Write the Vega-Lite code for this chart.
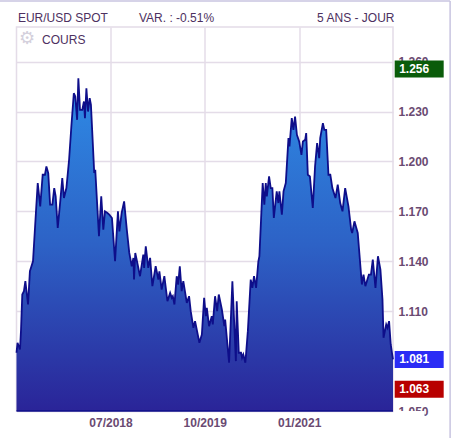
{"$schema":"https://vega.github.io/schema/vega-lite/v6.json","width":376.5,"height":384,"autosize":{"type":"none"},"padding":{"left":16.5,"top":27,"right":61,"bottom":27},"background":"#ffffff","view":{"stroke":"#e4dce8","strokeWidth":1.5},"datasets":{"one":[{}],"price":[
{"date":"2017-04-01","value":1.085},{"date":"2017-04-06","value":1.091},{"date":"2017-04-18","value":1.087},{"date":"2017-04-23","value":1.099},{"date":"2017-04-29","value":1.12},{"date":"2017-05-07","value":1.122},{"date":"2017-05-14","value":1.128},{"date":"2017-05-27","value":1.114},{"date":"2017-06-05","value":1.134},{"date":"2017-06-20","value":1.14},{"date":"2017-07-05","value":1.171},{"date":"2017-07-13","value":1.187},{"date":"2017-07-25","value":1.173},{"date":"2017-08-06","value":1.192},{"date":"2017-08-17","value":1.192},{"date":"2017-08-24","value":1.197},{"date":"2017-09-02","value":1.193},{"date":"2017-09-11","value":1.174},{"date":"2017-09-22","value":1.174},{"date":"2017-10-01","value":1.184},{"date":"2017-10-08","value":1.179},{"date":"2017-10-18","value":1.16},{"date":"2017-10-31","value":1.177},{"date":"2017-11-09","value":1.19},{"date":"2017-11-17","value":1.178},{"date":"2017-11-29","value":1.184},{"date":"2017-12-12","value":1.201},{"date":"2017-12-23","value":1.221},{"date":"2018-01-04","value":1.241},{"date":"2018-01-11","value":1.239},{"date":"2018-01-20","value":1.225},{"date":"2018-01-26","value":1.25},{"date":"2018-02-03","value":1.231},{"date":"2018-02-14","value":1.231},{"date":"2018-02-22","value":1.236},{"date":"2018-02-27","value":1.226},{"date":"2018-03-06","value":1.244},{"date":"2018-03-14","value":1.23},{"date":"2018-03-22","value":1.238},{"date":"2018-03-28","value":1.234},{"date":"2018-04-06","value":1.211},{"date":"2018-04-13","value":1.193},{"date":"2018-04-18","value":1.195},{"date":"2018-04-26","value":1.177},{"date":"2018-05-06","value":1.155},{"date":"2018-05-17","value":1.179},{"date":"2018-05-27","value":1.159},{"date":"2018-06-04","value":1.17},{"date":"2018-06-16","value":1.169},{"date":"2018-06-25","value":1.168},{"date":"2018-07-08","value":1.166},{"date":"2018-07-23","value":1.14},{"date":"2018-08-06","value":1.17},{"date":"2018-08-13","value":1.158},{"date":"2018-08-24","value":1.169},{"date":"2018-09-05","value":1.176},{"date":"2018-09-18","value":1.159},{"date":"2018-09-30","value":1.145},{"date":"2018-10-12","value":1.137},{"date":"2018-10-20","value":1.142},{"date":"2018-10-23","value":1.129},{"date":"2018-10-29","value":1.145},{"date":"2018-11-08","value":1.139},{"date":"2018-11-21","value":1.131},{"date":"2018-12-07","value":1.144},{"date":"2018-12-11","value":1.136},{"date":"2018-12-19","value":1.149},{"date":"2018-12-31","value":1.136},{"date":"2019-01-09","value":1.142},{"date":"2019-01-20","value":1.125},{"date":"2019-02-05","value":1.137},{"date":"2019-02-18","value":1.129},{"date":"2019-02-23","value":1.134},{"date":"2019-03-06","value":1.123},{"date":"2019-03-19","value":1.131},{"date":"2019-04-03","value":1.116},{"date":"2019-04-16","value":1.121},{"date":"2019-04-24","value":1.118},{"date":"2019-04-29","value":1.119},{"date":"2019-05-07","value":1.114},{"date":"2019-05-18","value":1.131},{"date":"2019-05-25","value":1.126},{"date":"2019-06-02","value":1.137},{"date":"2019-06-11","value":1.122},{"date":"2019-06-19","value":1.128},{"date":"2019-07-06","value":1.115},{"date":"2019-07-17","value":1.119},{"date":"2019-07-25","value":1.11},{"date":"2019-08-07","value":1.1},{"date":"2019-08-15","value":1.104},{"date":"2019-09-05","value":1.091},{"date":"2019-09-17","value":1.096},{"date":"2019-09-28","value":1.118},{"date":"2019-10-06","value":1.107},{"date":"2019-10-11","value":1.112},{"date":"2019-10-22","value":1.101},{"date":"2019-11-04","value":1.107},{"date":"2019-11-09","value":1.102},{"date":"2019-11-20","value":1.119},{"date":"2019-11-30","value":1.11},{"date":"2019-12-08","value":1.12},{"date":"2019-12-23","value":1.111},{"date":"2020-01-04","value":1.101},{"date":"2020-01-08","value":1.105},{"date":"2020-01-27","value":1.079},{"date":"2020-02-12","value":1.128},{"date":"2020-02-29","value":1.08},{"date":"2020-03-04","value":1.116},{"date":"2020-03-14","value":1.085},{"date":"2020-03-25","value":1.085},{"date":"2020-03-30","value":1.082},{"date":"2020-04-05","value":1.084},{"date":"2020-04-15","value":1.079},{"date":"2020-04-27","value":1.098},{"date":"2020-05-11","value":1.129},{"date":"2020-05-19","value":1.124},{"date":"2020-05-27","value":1.131},{"date":"2020-06-06","value":1.124},{"date":"2020-06-17","value":1.14},{"date":"2020-06-22","value":1.143},{"date":"2020-06-30","value":1.165},{"date":"2020-07-08","value":1.187},{"date":"2020-07-16","value":1.174},{"date":"2020-07-23","value":1.187},{"date":"2020-07-28","value":1.179},{"date":"2020-08-08","value":1.191},{"date":"2020-08-16","value":1.184},{"date":"2020-08-24","value":1.184},{"date":"2020-08-31","value":1.166},{"date":"2020-09-14","value":1.182},{"date":"2020-09-22","value":1.175},{"date":"2020-09-27","value":1.182},{"date":"2020-10-09","value":1.168},{"date":"2020-10-17","value":1.182},{"date":"2020-10-28","value":1.187},{"date":"2020-11-10","value":1.214},{"date":"2020-11-15","value":1.209},{"date":"2020-11-26","value":1.226},{"date":"2020-12-04","value":1.219},{"date":"2020-12-12","value":1.227},{"date":"2020-12-21","value":1.216},{"date":"2021-01-01","value":1.212},{"date":"2021-01-12","value":1.204},{"date":"2021-01-19","value":1.212},{"date":"2021-01-30","value":1.213},{"date":"2021-02-04","value":1.217},{"date":"2021-02-12","value":1.192},{"date":"2021-02-22","value":1.191},{"date":"2021-03-08","value":1.172},{"date":"2021-03-19","value":1.197},{"date":"2021-03-29","value":1.211},{"date":"2021-04-08","value":1.202},{"date":"2021-04-13","value":1.214},{"date":"2021-04-26","value":1.223},{"date":"2021-05-03","value":1.219},{"date":"2021-05-12","value":1.219},{"date":"2021-05-23","value":1.192},{"date":"2021-06-01","value":1.192},{"date":"2021-06-11","value":1.184},{"date":"2021-06-26","value":1.178},{"date":"2021-07-07","value":1.186},{"date":"2021-07-19","value":1.175},{"date":"2021-07-30","value":1.17},{"date":"2021-08-12","value":1.184},{"date":"2021-08-28","value":1.173},{"date":"2021-09-10","value":1.159},{"date":"2021-09-15","value":1.157},{"date":"2021-09-26","value":1.164},{"date":"2021-10-12","value":1.157},{"date":"2021-11-01","value":1.126},{"date":"2021-11-09","value":1.132},{"date":"2021-11-18","value":1.125},{"date":"2021-12-05","value":1.132},{"date":"2021-12-15","value":1.132},{"date":"2021-12-24","value":1.141},{"date":"2022-01-06","value":1.124},{"date":"2022-01-18","value":1.143},{"date":"2022-01-30","value":1.135},{"date":"2022-02-09","value":1.117},{"date":"2022-02-14","value":1.094},{"date":"2022-02-27","value":1.102},{"date":"2022-03-05","value":1.1},{"date":"2022-03-13","value":1.104},{"date":"2022-03-21","value":1.09},{"date":"2022-03-27","value":1.085},{"date":"2022-04-01","value":1.081}],
"levels":[{"label":"1.256","value":1.2555},{"label":"1.081","value":1.081},{"label":"1.063","value":1.063}],
"header":[{"label":"EUR/USD SPOT","date":"2017-04-08","value":1.2862},{"label":"VAR. : -0.51%","date":"2018-11-16","value":1.2862},{"label":"5 ANS - JOUR","date":"2021-03-29","value":1.2862},{"label":"COURS","date":"2017-08-03","value":1.2732}]},
"layer":[
{"data":{"name":"price"},"mark":{"type":"area","opacity":1,"fill":{"x1":0,"y1":0,"x2":0,"y2":1,"gradient":"linear","stops":[{"offset":0,"color":"#2e8ce6"},{"offset":0.5,"color":"#2d62c6"},{"offset":1,"color":"#2a2498"}]}},
"encoding":{"x":{"field":"date","type":"temporal","scale":{"domain":[{"year":2017,"month":4,"date":1},{"year":2022,"month":4,"date":1}]},"axis":{"title":null,"values":[{"year":2018,"month":7,"date":1},{"year":2019,"month":10,"date":1},{"year":2021,"month":1,"date":1}],"format":"%m/%Y","grid":true,"gridColor":"#e4dce8","gridWidth":1.5,"ticks":false,"domain":false,"labelFont":"Liberation Sans","labelFontSize":12,"labelFontWeight":"bold","labelColor":"#6a4a72","labelPadding":6}},
"y":{"field":"value","type":"quantitative","scale":{"domain":[1.05,1.2808],"nice":false,"zero":false},"axis":{"title":null,"orient":"right","values":[1.05,1.08,1.11,1.14,1.17,1.2,1.23,1.26],"labelExpr":"datum.value==1.08?'':format(datum.value,'.3f')","grid":true,"gridColor":"#e4dce8","gridWidth":1.5,"ticks":false,"domain":false,"labelFont":"Liberation Sans","labelFontSize":12,"labelFontWeight":"bold","labelColor":"#6a4a72","labelPadding":5}},"y2":{"datum":1.05}}},
{"data":{"name":"price"},"mark":{"type":"line","color":"#0e0e8a","strokeWidth":1.8},"encoding":{"x":{"field":"date","type":"temporal"},"y":{"field":"value","type":"quantitative"}}},
{"data":{"name":"one"},"mark":{"type":"rule","color":"#0e0e8a","strokeWidth":1.5},"encoding":{"y":{"datum":1.05}}},
{"data":{"name":"one"},"mark":{"type":"rect","color":"#ffffff"},"encoding":{"x":{"datum":{"year":2022,"month":4,"date":8},"type":"temporal"},"x2":{"datum":{"year":2022,"month":9,"date":1}},"y":{"datum":1.05},"y2":{"datum":1.04}}},
{"data":{"name":"levels"},"mark":{"type":"rect","width":49,"height":17},"encoding":{"x":{"datum":{"year":2022,"month":8,"date":6},"type":"temporal"},"y":{"field":"value","type":"quantitative"},"color":{"field":"label","type":"nominal","legend":null,"scale":{"domain":["1.256","1.081","1.063"],"range":["#0a5c0a","#2a2cf5","#b80000"]}}}},
{"data":{"name":"levels"},"mark":{"type":"text","align":"left","baseline":"middle","font":"Liberation Sans","fontSize":12,"fontWeight":"bold","color":"#ffffff"},"encoding":{"x":{"datum":{"year":2022,"month":5,"date":1},"type":"temporal"},"y":{"field":"value","type":"quantitative"},"text":{"field":"label"}}},
{"data":{"name":"header"},"mark":{"type":"text","align":"left","baseline":"middle","font":"Liberation Sans","fontSize":12,"color":"#4d3060"},"encoding":{"x":{"field":"date","type":"temporal"},"y":{"field":"value","type":"quantitative"},"text":{"field":"label"}}},
{"data":{"name":"one"},"mark":{"type":"text","text":"⚙","font":"DejaVu Sans","fontSize":18,"color":"#d4d0dc","align":"center","baseline":"middle"},"encoding":{"x":{"datum":{"year":2017,"month":5,"date":22},"type":"temporal"},"y":{"datum":1.2736}}},
{"data":{"name":"one"},"mark":{"type":"rule","color":"#c8c4e0","strokeWidth":1.5},"encoding":{"x":{"datum":{"year":2023,"month":1,"date":3},"type":"temporal"},"y":{"datum":1.2964},"y2":{"datum":1.0338}}},
{"data":{"name":"one"},"mark":{"type":"rule","color":"#c8c4e0","strokeWidth":1.5},"encoding":{"x":{"datum":{"year":2017,"month":1,"date":10},"type":"temporal"},"x2":{"datum":{"year":2023,"month":1,"date":3}},"y":{"datum":1.2964}}}
]}
